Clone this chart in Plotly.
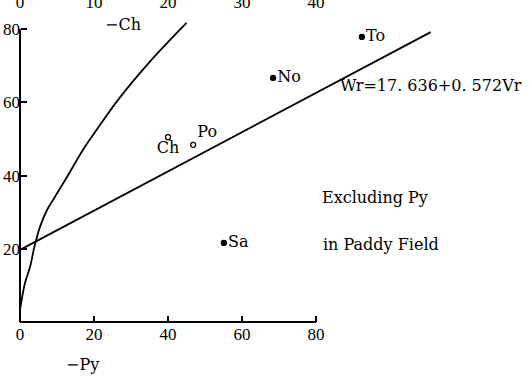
import plotly.graph_objects as go

W, H = 529, 376
SERIF = "Liberation Serif, Times New Roman, serif"
WIDE_SERIF = "DejaVu Serif, serif"

# sample points (bottom scale = Py, left scale = Wr)
pt_names = ["To", "No", "Ch", "Po", "Sa"]
pt_x = [92.4, 68.4, 40.0, 46.8, 55.1]
pt_y = [77.9, 66.7, 50.5, 48.4, 21.6]
pt_filled = [True, True, False, False, True]
pt_textpos = ["middle right", "middle right", "bottom center", "top right", "middle right"]

# regression line Wr = 17.636 + 0.572 Vr (as drawn)
reg_x = [0, 111]
reg_y = [19.7, 79.2]

# Ch curve, read on the top scale
ch_x = [0, 0.68, 1.35, 2.0, 2.7, 3.65, 4.45, 6.35, 8.5, 10.8, 13.25, 17.5, 22.5]
ch_y = [3.3, 10.7, 15.0, 21.0, 26.0, 30.6, 33.3, 39.6, 47.0, 53.8, 60.7, 71.0, 81.7]

bottom_ticks = [0, 20, 40, 60, 80]
top_ticks = [0, 10, 20, 30, 40]
left_ticks = [20, 40, 60, 80]

# pixel mapping of the scan: x=0 at 20px, 3.7 px/unit; y=0 at 322px, 3.66 px/unit
x_range = [-20 / 3.7, (W - 20) / 3.7]
y_range = [-(H - 322) / 3.66, 322 / 3.66]

fig = go.Figure()

fig.add_trace(go.Scatter(x=reg_x, y=reg_y, mode="lines",
                         line=dict(color="black", width=1.8), hoverinfo="skip"))
fig.add_trace(go.Scatter(x=ch_x, y=ch_y, xaxis="x2", mode="lines",
                         line=dict(color="black", width=1.8, shape="spline"), hoverinfo="skip"))

for name, x, y, filled, tp in zip(pt_names, pt_x, pt_y, pt_filled, pt_textpos):
    fig.add_trace(go.Scatter(
        x=[x], y=[y], mode="markers+text", text=[name], textposition=tp,
        textfont=dict(family=WIDE_SERIF, size=16, color="black"),
        marker=dict(size=5, color="black" if filled else "white",
                    symbol="circle", line=dict(color="black", width=1.3)),
        cliponaxis=False,
    ))

# axis lines only span 0..80
fig.add_shape(type="line", x0=0, x1=80, y0=0, y1=0, xref="x", yref="y",
              line=dict(color="black", width=2.2))
fig.add_shape(type="line", x0=0, x1=0, y0=1, y1=80, xref="x", yref="y",
              line=dict(color="black", width=2))

def px2paper(px, py):
    return px / W, 1 - py / H

annots = [
    ("−Ch", 103, 25, "left"),
    ("−Py", 64, 364, "left"),
    ("Wr=17. 636+0. 572Vr", 338, 86, "left"),
    ("Excluding Py", 320, 198, "left"),
    ("in Paddy Field", 321, 245, "left"),
]
for txt, ax, ay, anchor in annots:
    xp, yp = px2paper(ax, ay)
    fig.add_annotation(text=txt, x=xp, y=yp, xref="paper", yref="paper",
                       xanchor=anchor, yanchor="middle", showarrow=False,
                       font=dict(family=WIDE_SERIF, size=16, color="black"))

axis_font = dict(family=SERIF, size=17, color="black")
fig.update_layout(
    width=W, height=H,
    margin=dict(l=0, r=0, t=0, b=0),
    paper_bgcolor="white", plot_bgcolor="white",
    showlegend=False,
    xaxis=dict(range=x_range, tickvals=bottom_ticks, ticks="inside", ticklen=6,
               tickwidth=1.5, tickcolor="black", showgrid=False, zeroline=False,
               showline=False, anchor="free", position=(H - 322) / H,
               tickfont=axis_font),
    xaxis2=dict(range=[x_range[0] / 2, x_range[1] / 2], overlaying="x", side="bottom",
                anchor="free", position=1, tickvals=top_ticks, ticks="",
                showgrid=False, zeroline=False, showline=False,
                ticklabelstandoff=-10, tickfont=axis_font),
    yaxis=dict(range=y_range, tickvals=left_ticks, ticks="inside", ticklen=6,
               tickwidth=1.5, tickcolor="black", showgrid=False, zeroline=False,
               showline=False, anchor="free", position=20 / W,
               tickfont=axis_font),
)

fig.write_html("out.html", config={"displayModeBar": False},
               post_script="document.body.style.margin='0';")
